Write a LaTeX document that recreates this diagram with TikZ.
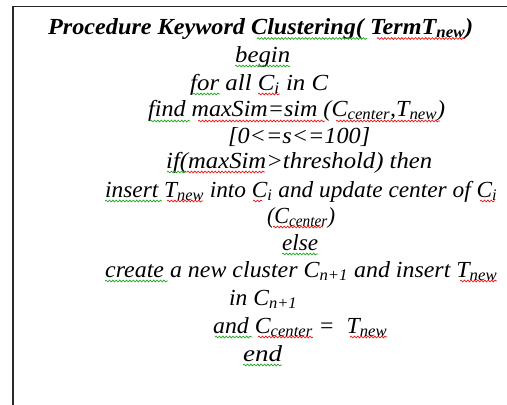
\documentclass[tikz,border=0pt]{standalone}
\usepackage{fontspec}
\setmainfont{Liberation Serif}
\usetikzlibrary{decorations.pathmorphing}
\definecolor{sqgreen}{RGB}{40,170,40}
\definecolor{sqred}{RGB}{235,30,30}
\definecolor{framecol}{RGB}{40,40,40}
\tikzset{
  line/.style={anchor=base west, inner sep=0pt, font=\fontsize{23}{27}\selectfont\itshape},
  titleline/.style={line, font=\fontsize{23}{27}\selectfont\bfseries\itshape},
  wavy/.style={decorate, decoration={snake, amplitude=0.9pt, segment length=3.4pt}, line width=0.75pt},
  gw/.style={wavy, sqgreen},
  rw/.style={wavy, sqred},
}
\newcommand{\sbs}[1]{\textsubscript{#1}}
\newlength\natw
\newcommand{\fitto}[2]{\settowidth{\natw}{#2}\pgfmathsetmacro\fitratio{#1/\natw}\scalebox{\fitratio}[1]{#2}}
\begin{document}
\begin{tikzpicture}[x=1pt,y=-1pt]
\useasboundingbox (0,0) rectangle (507,405);
\draw[framecol, line width=1.6pt] (13,410) -- (13,6.5) -- (512,6.5);

\node[titleline] (l1) at (48,34) {\fitto{425}{Procedure Keyword Clustering( TermT\sbs{new})}};
\node[line] (l2) at (235,62) {\fitto{55}{begin}};
\node[line] (l3) at (190,90) {\fitto{138}{for all C\sbs{i} in C}};
\node[line] (l4) at (148,116) {\fitto{297}{find maxSim=sim (C\sbs{center},T\sbs{new})}};
\node[line] (l5) at (228,143) {\fitto{142}{[0<=s<=100]}};
\node[line] (l6) at (166,168) {\fitto{266}{if(maxSim>threshold) then}};
\node[line] (l7) at (105,197) {\fitto{392}{insert T\sbs{new} into C\sbs{i} and update center of C\sbs{i}}};
\node[line] (l8) at (267,223) {\fitto{68}{(C\sbs{center})}};
\node[line] (l9) at (282,250) {\fitto{36}{else}};
\node[line] (l10) at (105,277) {\fitto{392}{create a new cluster C\sbs{n+1} and insert T\sbs{new}}};
\node[line] (l11) at (229,305) {\fitto{68}{in C\sbs{n+1}}};
\node[line] (l12) at (213,333) {\fitto{174}{and C\sbs{center} =\ \ T\sbs{new}}};
\node[line] (l13) at (243,361) {\fitto{39}{end}};

% spell-check squiggles
\draw[gw] (257,38.5) -- (367,38.5);
\draw[rw] (377,38.5) -- (465,38.5);
\draw[gw] (235,66) -- (290,66);
\draw[gw] (193,94) -- (220,94);
\draw[rw] (258,94) -- (280,94);
\draw[gw] (150,121) -- (190,121);
\draw[rw] (198,121) -- (325,121);
\draw[rw] (336,121) -- (440,121);
\draw[gw] (167,172) -- (187,172);
\draw[rw] (187,172) -- (265,172);
\draw[gw] (105,201) -- (162,201);
\draw[rw] (167,201) -- (203,201);
\draw[rw] (253,201) -- (262,201);
\draw[rw] (480,201) -- (495,201);
\draw[rw] (273,227) -- (323,227);
\draw[gw] (282,254) -- (318,254);
\draw[gw] (105,281) -- (168,281);
\draw[rw] (460,281) -- (497,281);
\draw[gw] (215,337) -- (252,337);
\draw[rw] (258,337) -- (313,337);
\draw[rw] (350,337) -- (387,337);
\draw[gw] (243,365) -- (282,365);
\end{tikzpicture}
\end{document}
